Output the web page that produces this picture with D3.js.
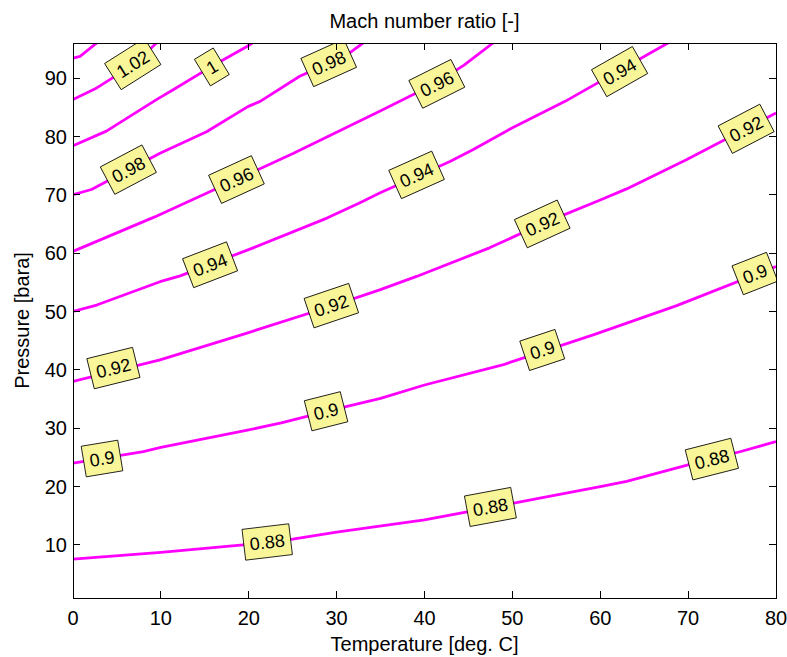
<!DOCTYPE html>
<html>
<head>
<meta charset="utf-8">
<script src="https://cdn.jsdelivr.net/npm/d3@7"></script>
<style>
  html, body { margin: 0; padding: 0; background: #fff; }
  svg { display: block; }
  text { font-family: Arial, "Liberation Sans", Helvetica, sans-serif; fill: #000; }
</style>
</head>
<body>
<svg id="chart" width="787" height="657"></svg>
<script>
// ---------------- data ----------------
const title = "Mach number ratio [-]";
const xLabel = "Temperature [deg. C]";
const yLabel = "Pressure [bara]";
const xTicks = [0, 10, 20, 30, 40, 50, 60, 70, 80];
const yTicks = [10, 20, 30, 40, 50, 60, 70, 80, 90];
const xDomain = [0, 80];
const yDomain = [0.9, 96];

const levels = ["0.88", "0.9", "0.92", "0.94", "0.96", "0.98", "1", "1.02", "1.04"];

// contour lines: [temperature, pressure]
const c088 = [[0,7.55],[10,8.7],[20,10.1],[25,11.0],[30,12.2],[40,14.3],[50,17.1],[60,20.0],[63,20.9],[70,23.7],[76,26.0],[80,27.7]];
const c090 = [[0,24.0],[8,26.0],[10,26.7],[20,29.7],[23.7,30.9],[30,33.3],[35,35.1],[40,37.4],[49,40.9],[59.2,46.0],[68.7,51.0],[80,57.7]];
const c092 = [[0,38.0],[9.9,41.7],[19.8,46.3],[29.2,50.8],[34.9,53.7],[39.1,56.0],[47.4,60.9],[53.5,65.1],[60,69.1],[63,71.0],[69.8,76.0],[80,84.0]];
const c094 = [[0,50.0],[2.7,51.1],[9.9,55.1],[12.2,56.1],[20.5,60.9],[28.9,66.0],[32.6,68.6],[34.9,70.3],[42.9,75.7],[45.5,77.7],[49.9,81.4],[56,86.0],[67.7,96.0],[69,97]];
const c096 = [[0,60.3],[9.3,66.2],[18.6,72.6],[25.1,77.1],[30,80.7],[34.9,84.3],[41.4,89.2],[44.5,92.2],[47.8,96],[49,97.3]];
const c098 = [[0,70.0],[2.1,70.9],[9.9,77.1],[15.2,80.8],[19.9,85.1],[21.3,86.0],[25.8,90.3],[31.1,93.9],[33,96],[34,97]];
const c100 = [[0,78.4],[3.8,80.9],[9.5,86.3],[11.4,88.0],[15.8,92.0],[19.8,95.4],[20.4,96],[21.5,97]];
const c102 = [[0,86.3],[2.7,88.3],[6.9,92.3],[9.5,96],[10.3,97]];
const c104 = [[0,93.4],[0.8,93.7],[2.7,96],[3.5,97]];

// contour label anchor points: [temperature, pressure]
const lab088 = [[22.1,10.5],[47.5,16.5],[72.7,24.7]];
const lab090 = [[3.3,24.8],[28.8,32.9],[53.4,43.4],[77.6,56.5]];
const lab092 = [[4.6,40.3],[29.4,51.0],[53.4,65.0],[76.6,81.3]];
const lab094 = [[15.6,58.0],[39.1,73.4],[62.2,91.1]];
const lab096 = [[18.6,72.6],[41.4,89.0]];
const lab098 = [[6.3,74.3],[29.1,92.6]];
const lab100 = [[15.8,91.9]];
const lab102 = [[6.8,92.4]];
const lab104 = [];

const lines = [c088, c090, c092, c094, c096, c098, c100, c102, c104];
const labels = [lab088, lab090, lab092, lab094, lab096, lab098, lab100, lab102, lab104];

// ---------------- drawing ----------------
const svg = d3.select("#chart");
const L = 73, R = 776, T = 43, B = 598;
const x = d3.scaleLinear().domain(xDomain).range([L, R]);
const y = d3.scaleLinear().domain(yDomain).range([B, T]);

svg.append("defs").append("clipPath").attr("id", "plotclip")
  .append("rect").attr("x", L).attr("y", T).attr("width", R - L).attr("height", B - T);

const plot = svg.append("g").attr("clip-path", "url(#plotclip)");

const lineGen = d3.line().x(d => x(d[0])).y(d => y(d[1]));

plot.selectAll("path.contour").data(lines).join("path")
  .attr("class", "contour")
  .attr("d", lineGen)
  .attr("fill", "none")
  .attr("stroke", "#ff00ff")
  .attr("stroke-width", 2.8)
  .attr("stroke-linejoin", "round");

function angleAt(pts, t) {
  let i = 0;
  while (i < pts.length - 2 && pts[i + 1][0] < t) i++;
  const dx = x(pts[i + 1][0]) - x(pts[i][0]);
  const dy = y(pts[i + 1][1]) - y(pts[i][1]);
  return Math.atan2(dy, dx) * 180 / Math.PI;
}

lines.forEach((pts, k) => {
  labels[k].forEach(lp => {
    const ang = angleAt(pts, lp[0]);
    const g = plot.append("g")
      .attr("transform", `translate(${x(lp[0])},${y(lp[1])}) rotate(${ang})`);
    const rect = g.append("rect");
    const txt = g.append("text")
      .attr("text-anchor", "middle")
      .attr("dy", "0.36em")
      .style("font-size", "18px")
      .text(levels[k]);
    const w = txt.node().getComputedTextLength() + 12;
    const h = 31;
    rect.attr("x", -w / 2).attr("y", -h / 2).attr("width", w).attr("height", h)
      .attr("fill", "#f9f699").attr("stroke", "#000").attr("stroke-width", 0.8);
  });
});

// frame
svg.append("rect").attr("x", L).attr("y", T).attr("width", R - L).attr("height", B - T)
  .attr("fill", "none").attr("stroke", "#000").attr("stroke-width", 1)
  .attr("shape-rendering", "crispEdges");

// ticks
const tk = 7;
const tickG = svg.append("g").attr("stroke", "#000").attr("stroke-width", 1).attr("shape-rendering", "crispEdges");
xTicks.forEach(v => {
  tickG.append("line").attr("x1", x(v)).attr("x2", x(v)).attr("y1", B).attr("y2", B - tk);
  tickG.append("line").attr("x1", x(v)).attr("x2", x(v)).attr("y1", T).attr("y2", T + tk);
});
yTicks.forEach(v => {
  tickG.append("line").attr("x1", L).attr("x2", L + tk).attr("y1", y(v)).attr("y2", y(v));
  tickG.append("line").attr("x1", R).attr("x2", R - tk).attr("y1", y(v)).attr("y2", y(v));
});

// tick labels
svg.append("g").selectAll("text").data(xTicks).join("text")
  .attr("x", d => x(d)).attr("y", 625)
  .attr("text-anchor", "middle").style("font-size", "20px")
  .text(d => d);
svg.append("g").selectAll("text").data(yTicks).join("text")
  .attr("x", L - 6).attr("y", d => y(d)).attr("dy", "0.36em")
  .attr("text-anchor", "end").style("font-size", "20px")
  .text(d => d);

// titles
svg.append("text").attr("x", (L + R) / 2).attr("y", 28)
  .attr("text-anchor", "middle").style("font-size", "20px").text(title);
svg.append("text").attr("x", (L + R) / 2).attr("y", 651)
  .attr("text-anchor", "middle").style("font-size", "20px").text(xLabel);
svg.append("text").attr("transform", `translate(29,${(T + B) / 2}) rotate(-90)`)
  .attr("text-anchor", "middle").style("font-size", "20px").text(yLabel);
</script>
</body>
</html>
